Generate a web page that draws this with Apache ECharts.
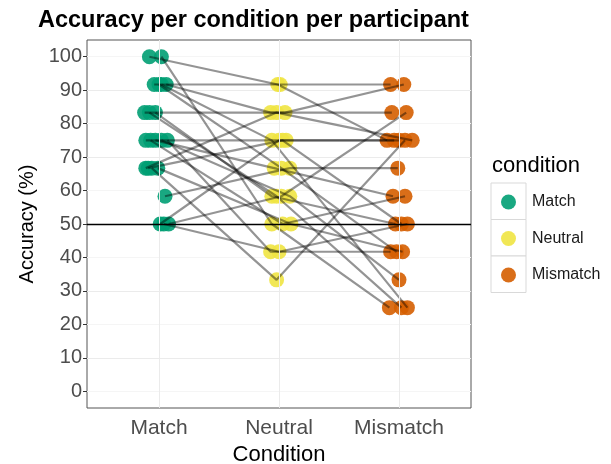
<!DOCTYPE html>
<html>
<head>
<meta charset="utf-8">
<script src="https://cdn.jsdelivr.net/npm/echarts@6/dist/echarts.min.js"></script>
<style>html,body{margin:0;padding:0;background:#fff;}#chart{width:611px;height:464px;}</style>
</head>
<body>
<div id="chart"></div>
<script>
// ---- data ----
const categories = ['Match', 'Neutral', 'Mismatch'];
const conditionColors = ['#009E73', '#F0E442', '#D55E00'];
const yTicks = [0, 10, 20, 30, 40, 50, 60, 70, 80, 90, 100];
const chanceLevel = 50;
// accuracy per participant (index = participant)
const matchAcc    = [100, 91.7, 100, 91.7, 91.7, 83.3, 83.3, 75, 75, 75, 75, 66.7, 66.7, 66.7, 58.3, 50, 50, 50, 75, 66.7, 91.7, 83.3];
const neutralAcc  = [91.7, 91.7, 50, 83.3, 75, 83.3, 58.3, 75, 66.7, 41.7, 58.3, 83.3, 50, 33.3, 66.7, 75, 58.3, 41.7, 50, 75, 66.7, 58.3];
const mismatchAcc = [75, 91.7, 25, 83.3, 25, 91.7, 50, 75, 58.3, 41.7, 33.3, 75, 41.7, 75, 66.7, 75, 83.3, 50, 58.3, 50, 41.7, 25];
// horizontal jitter (in category units)
const matchJitter    = [-0.08, -0.04, 0.02, 0.06, 0.02, -0.12, -0.03, -0.11, -0.03, 0.07, 0.02, -0.11, -0.01, -0.06, 0.05, 0.01, 0.08, 0.04, -0.07, -0.09, 0.00, -0.08];
const neutralJitter  = [-0.01, 0.01, -0.06, -0.07, -0.06, 0.05, -0.06, 0.06, -0.04, -0.07, 0.09, -0.02, 0.10, -0.02, 0.09, 0.00, 0.02, 0.00, 0.03, 0.03, 0.02, -0.02];
const mismatchJitter = [-0.10, -0.07, -0.08, -0.06, 0.07, 0.04, -0.03, 0.00, -0.05, -0.07, 0.00, 0.11, 0.03, 0.05, -0.01, -0.04, 0.06, 0.07, 0.05, 0.02, -0.02, 0.02];

const accs = [matchAcc, neutralAcc, mismatchAcc];
const jits = [matchJitter, neutralJitter, mismatchJitter];

const chart = echarts.init(document.getElementById('chart'), null, {renderer: 'canvas'});
const FONT = 'Liberation Sans, Arial, sans-serif';

const series = [];
// vertical major grid lines at categories
series.push({
  type: 'line', data: [], z: 1, silent: true,
  markLine: {
    silent: true, symbol: 'none', label: {show: false},
    lineStyle: {color: '#EBEBEB', width: 1, type: 'solid'},
    data: [{xAxis: 1}, {xAxis: 2}, {xAxis: 3}]
  }
});
// points
categories.forEach((c, ci) => {
  series.push({
    name: c, type: 'scatter', z: 2,
    symbol: 'circle', symbolSize: 15,
    itemStyle: {color: conditionColors[ci], opacity: 0.9},
    data: accs[ci].map((v, i) => [ci + 1 + jits[ci][i], v])
  });
});
// participant lines
matchAcc.forEach((_, i) => {
  series.push({
    type: 'line', z: 3, silent: true, symbol: 'none',
    lineStyle: {color: 'rgba(0,0,0,0.42)', width: 2.2},
    data: [0, 1, 2].map(ci => [ci + 1 + jits[ci][i], accs[ci][i]])
  });
});
// chance line
series.push({
  type: 'line', data: [], z: 4, silent: true,
  markLine: {
    silent: true, symbol: 'none', label: {show: false},
    lineStyle: {color: '#000', width: 1.3, type: 'solid'},
    data: [{yAxis: chanceLevel}]
  }
});

const legendBoxes = [0, 1, 2].map(i => ({
  type: 'rect', z: 0,
  shape: {x: 491, y: 183 + i * 36.5, width: 35, height: 36.5},
  style: {fill: '#fff', stroke: '#D9D9D9', lineWidth: 1}
}));

chart.setOption({
  animation: false,
  backgroundColor: '#fff',
  textStyle: {fontFamily: FONT},
  title: [
    {text: 'Accuracy per condition per participant', left: 33, top: 4,
     textStyle: {fontSize: 23.5, fontWeight: 'bold', color: '#000', fontFamily: FONT}},
    {text: 'condition', left: 487, top: 150,
     textStyle: {fontSize: 22, fontWeight: 'normal', color: '#000', fontFamily: FONT}}
  ],
  grid: {left: 87, right: 140, top: 40, bottom: 56, outerBoundsMode: 'none', containLabel: false,
         show: true, borderColor: '#555', borderWidth: 1, backgroundColor: '#fff'},
  xAxis: {
    type: 'value', min: 0.4, max: 3.6,
    axisLine: {show: false},
    splitLine: {show: false},
    axisTick: {show: true, length: 4, lineStyle: {color: '#333'}, customValues: [1, 2, 3]},
    axisLabel: {customValues: [1, 2, 3], formatter: v => categories[Math.round(v) - 1] || '',
                fontSize: 21, color: '#4D4D4D', margin: 10, fontFamily: FONT},
    name: 'Condition', nameLocation: 'middle', nameGap: 33,
    nameTextStyle: {fontSize: 22, color: '#000', fontFamily: FONT}
  },
  yAxis: {
    type: 'value', min: -5, max: 105, interval: 5,
    axisLine: {show: false},
    axisTick: {show: true, length: 4, lineStyle: {color: '#333'}, customValues: yTicks},
    axisLabel: {customValues: yTicks, fontSize: 20, color: '#4D4D4D', margin: 5, fontFamily: FONT},
    splitLine: {show: true, lineStyle: {color: ['#F5F5F5', '#EBEBEB'], width: 1}},
    name: 'Accuracy (%)', nameLocation: 'middle', nameGap: 50,
    nameTextStyle: {fontSize: 20, color: '#000', fontFamily: FONT}
  },
  legend: {
    data: categories, orient: 'vertical', left: 496, top: 189,
    itemWidth: 15, itemHeight: 15, itemGap: 20.5, icon: 'circle', selectedMode: false,
    textStyle: {fontSize: 16, lineHeight: 15, color: '#1a1a1a', fontFamily: FONT, padding: [0, 0, 0, 11]}
  },
  graphic: legendBoxes,
  series: series
});
</script>
</body>
</html>
